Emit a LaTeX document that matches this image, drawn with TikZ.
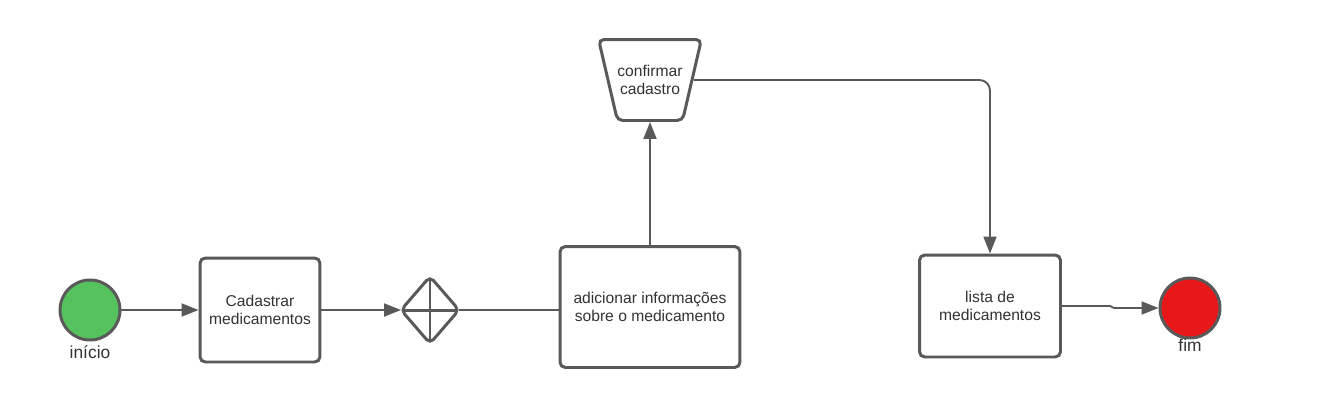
\documentclass[tikz,border=0pt]{standalone}
\usepackage{fontspec}
\setmainfont{Liberation Sans}
\usetikzlibrary{shapes.geometric,arrows.meta}
\definecolor{edge}{HTML}{595959}
\definecolor{startgreen}{HTML}{55C25E}
\definecolor{endred}{HTML}{E8171A}
\definecolor{txt}{HTML}{333333}
\begin{document}
\begin{tikzpicture}[
    x=0.02cm,y=-0.02cm,
    every node/.style={font=\fontsize{8.9}{10.6}\selectfont, text=txt},
    frame/.style={draw=edge, line width=1.7pt, rounded corners=3pt},
    task/.style={frame, fill=white, align=center, inner sep=0pt},
    event/.style={draw=edge, line width=1.7pt, circle, minimum size=1.2cm, inner sep=0pt},
    link/.style={draw=edge, line width=1.1pt, -{Triangle[length=3.4mm,width=2.6mm]}},
    plain/.style={draw=edge, line width=1.1pt}
]
    \useasboundingbox (0,0) rectangle (1335,413);

    % eventos
    \node[event, fill=startgreen] (inicio) at (90,310) {};
    \node[font=\fontsize{9.9}{11}\selectfont] (linicio) at (90,352) {início};
    \node[event, fill=endred] (fim) at (1190,308) {};
    \node[font=\fontsize{9.9}{11}\selectfont] (lfim) at (1190,345) {fim};

    % tarefas
    \node[task, minimum width=2.4cm, minimum height=2.08cm] (cad) at (260,310) {Cadastrar\\medicamentos};
    \node[task, minimum width=3.6cm, minimum height=2.42cm] (info) at (650,307) {adicionar informações\\sobre o medicamento};
    \node[task, minimum width=2.82cm, minimum height=2.04cm] (lista) at (990,306) {lista de\\medicamentos};
    \node[task, shape=trapezium, shape border rotate=180, trapezium stretches=true,
          trapezium angle=58, minimum width=1.96cm, minimum height=1.62cm] (conf) at (650,80) {confirmar\\cadastro};

    % gateway
    \node[frame, shape=diamond, outer sep=0pt, minimum width=1.16cm, minimum height=1.34cm, inner sep=0pt] (gw) at (430,310) {};
    \draw[draw=edge, line width=1.7pt, shorten <=1pt, shorten >=1pt] (gw.north) -- (gw.south);
    \draw[draw=edge, line width=1.7pt, shorten <=1pt, shorten >=1pt] (gw.west) -- (gw.east);

    % fluxos
    \draw[link] (inicio.east) -- (cad.west);
    \draw[link] (cad.east) -- (gw.west);
    \draw[plain] (gw.east) -- (gw.east -| info.west);
    \draw[link] (info.north) -- (conf.south);
    \draw[link, rounded corners=6pt] (conf.east) -| (lista.north);
    \draw[link] (lista.east) -- ++(48,0) -- ++(4,2) -- (fim.west);
\end{tikzpicture}
\end{document}
